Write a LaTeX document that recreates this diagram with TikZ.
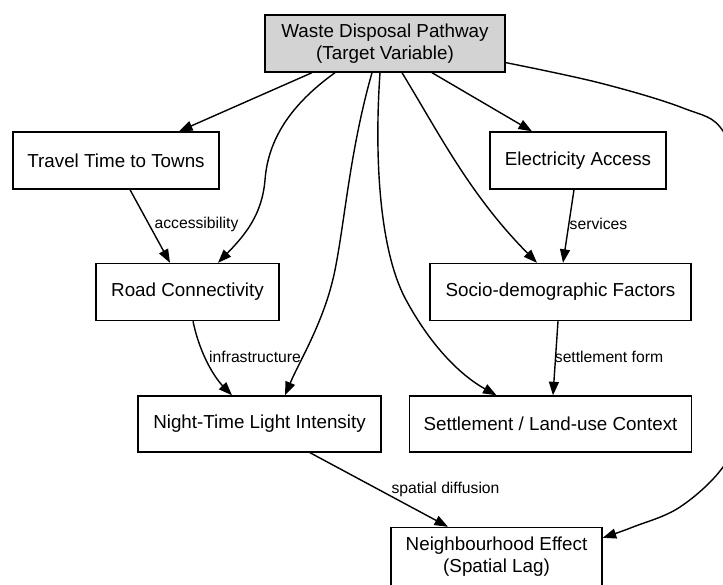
\documentclass[tikz,border=0pt]{standalone}
\usepackage{fontspec}
\setmainfont{Liberation Sans}
\usetikzlibrary{arrows.meta}
\definecolor{targetgray}{HTML}{D3D3D3}
\begin{document}
\begin{tikzpicture}[x=1pt,y=-1pt,
  box/.style={draw=black,line width=1.4pt,rectangle,inner sep=0pt,align=center,
    font=\fontsize{18.8}{22.4}\selectfont},
  edge/.style={draw=black,line width=1.4pt,
    -{Triangle[length=13.5pt,width=10pt]}},
  lbl/.style={inner sep=0pt,font=\fontsize{15.7}{18}\selectfont}]
\useasboundingbox (0,0) rectangle (723,584);
\clip (0,0) rectangle (723,584);

% nodes
\node[box,fill=targetgray,minimum width=240pt,minimum height=57pt] (tgt) at (385,43.5)
  {Waste Disposal Pathway\\(Target Variable)};
\node[box,minimum width=206pt,minimum height=57pt] (travel) at (116,160.5) {Travel Time to Towns};
\node[box,minimum width=176pt,minimum height=57pt] (elec) at (578,160.5) {Electricity Access};
\node[box,minimum width=183pt,minimum height=57pt] (road) at (187.5,292) {Road Connectivity};
\node[box,minimum width=261pt,minimum height=57pt] (socio) at (560.5,292) {Socio-demographic Factors};
\node[box,minimum width=243pt,minimum height=56pt] (night) at (259.5,424) {Night-Time Light Intensity};
\node[box,minimum width=282pt,minimum height=56pt] (settle) at (550.5,424) {Settlement / Land-use Context};
\node[box,minimum width=211pt,minimum height=58pt] (nb) at (496.5,556.5)
  {Neighbourhood Effect\\(Spatial Lag)};

% edges from the target variable
\draw[edge] ([xshift=-73pt]tgt.south) -- ([xshift=63pt]travel.north);
\draw[edge] ([xshift=-50pt]tgt.south) .. controls (290,105) and (268,140) .. (265,180)
  .. controls (262,215) and (245,235) .. ([xshift=30.5pt]road.north);
\draw[edge] ([xshift=-13pt]tgt.south) .. controls (350,150) and (345,220) .. (335,270)
  .. controls (325,320) and (300,360) .. ([xshift=25.5pt]night.north);
\draw[edge] ([xshift=-5pt]tgt.south) .. controls (374,160) and (380,250) .. (405,298)
  .. controls (430,345) and (460,375) .. ([xshift=-54pt]settle.north);
\draw[edge] ([xshift=17pt]tgt.south) .. controls (440,135) and (470,195) .. ([xshift=-23.5pt]socio.north);
\draw[edge] ([xshift=47pt]tgt.south) -- ([xshift=-46pt]elec.north);
\draw[edge] plot[smooth,tension=0.6] coordinates {(tgt.-9) (600,83) (683,108) (723,131)
  (745,200) (752,320) (742,420) (723,467) (680,507) (633,527) (nb.10)};

% edges between factors
\draw[edge] ([xshift=14pt]travel.south) -- ([xshift=-17.5pt]road.north);
\draw[edge] ([xshift=-4pt]elec.south) -- ([xshift=2.5pt]socio.north);
\draw[edge] ([xshift=5.5pt]road.south) .. controls (200,355) and (215,378) .. ([xshift=-27.5pt]night.north);
\draw[edge] ([xshift=-2.5pt]socio.south) -- ([xshift=2.5pt]settle.north);
\draw[edge] ([xshift=50.5pt]night.south) -- ([xshift=-48.5pt]nb.north);

% edge labels
\node[lbl] (l-access) at (196.5,224.5) {accessibility};
\node[lbl] (l-services) at (598.5,224) {services};
\node[lbl] (l-infra) at (255,357) {infrastructure};
\node[lbl] (l-settle) at (609,357) {settlement form};
\node[lbl] (l-diff) at (445.5,489) {spatial diffusion};
\end{tikzpicture}
\end{document}
